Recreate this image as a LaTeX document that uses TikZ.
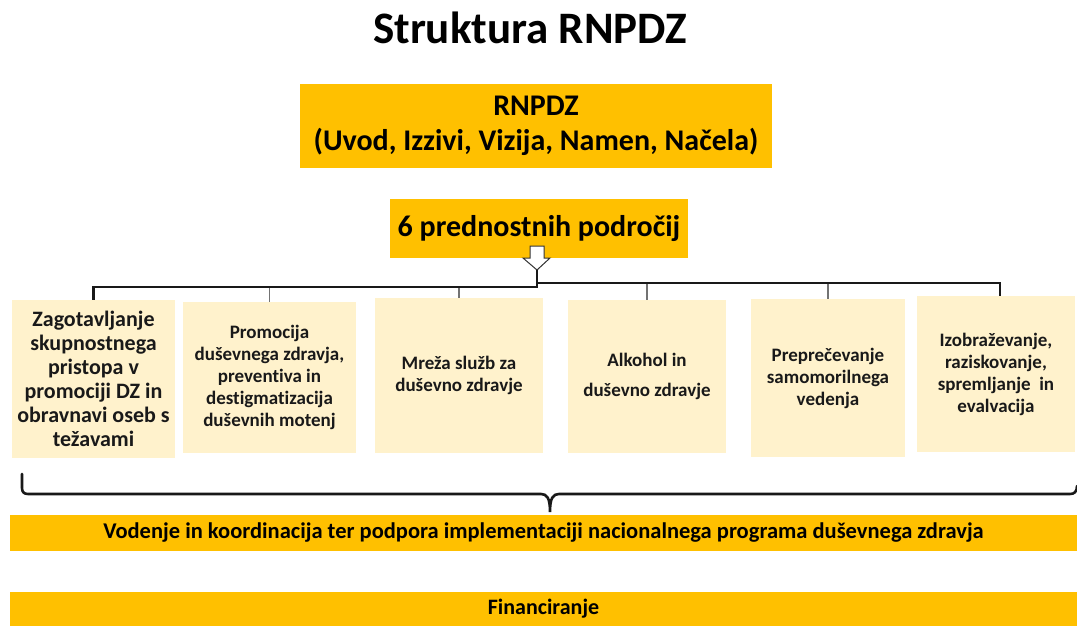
\documentclass[tikz,border=0pt]{standalone}
\usepackage{fontspec}
\setmainfont{Carlito}[Ligatures=NoCommon]
\usetikzlibrary{calc}
\definecolor{gold}{HTML}{FFC000}
\definecolor{pale}{HTML}{FFF2CC}
\begin{document}
\begin{tikzpicture}[x=1pt,y=-1pt,
  gbox/.style={fill=gold, draw=none, inner sep=0pt, align=center, font=\bfseries},
  pbox/.style={fill=pale, draw=none, inner sep=0pt, align=center, text=black!90, font=\bfseries\fontsize{19}{22}\selectfont},
  trunk/.style={line width=2.6pt, black!90},
  twig/.style={line width=1.2pt, black!55},
  bracepath/.style={line width=2.6pt, black!90, line cap=round}]
\useasboundingbox (0,0) rectangle (1077,626);
\fill[white] (0,0) rectangle (1077,626);

\node (title) at (530,28) {\bfseries\fontsize{45}{50}\selectfont Struktura RNPDZ};

\node[gbox, minimum width=472pt, minimum height=83pt, font=\bfseries\fontsize{30}{35}\selectfont] (top) at (536,126) {RNPDZ\\(Uvod, Izzivi, Vizija, Namen, Načela)};

\node[gbox, minimum width=298pt, minimum height=59pt, font=\bfseries\fontsize{30}{35}\selectfont] (six) at (539,228.5) {6 prednostnih področij};

\draw[fill=white, draw=black!80, line width=1pt, line join=miter] (530,246) -- (544,246) -- (544,258) -- (550,258) -- (537,270) -- (523,258) -- (530,258) -- cycle;
\coordinate (tip) at (537,270);
\coordinate (jl) at (537,287);
\coordinate (jr) at (537,283);

\node[pbox, minimum width=163pt, minimum height=158pt, font=\bfseries\fontsize{22}{24}\selectfont] (b1) at (93.5,379) {Zagotavljanje\\skupnostnega\\pristopa v\\promociji DZ in\\obravnavi oseb s\\težavami};
\node[pbox, minimum width=173pt, minimum height=151pt] (b2) at (269.5,377.5) {Promocija\\duševnega zdravja,\\preventiva in\\destigmatizacija\\duševnih\ motenj};
\node[pbox, minimum width=168pt, minimum height=155pt] (b3) at (459,375.5) {Mreža služb za\\duševno zdravje};
\node[pbox, minimum width=158pt, minimum height=153pt, font=\bfseries\fontsize{19}{30}\selectfont] (b4) at (647,376.5) {Alkohol\ in\\duševno\ zdravje};
\node[pbox, minimum width=154pt, minimum height=158pt] (b5) at (828,378) {Preprečevanje\\samomorilnega\\vedenja};
\node[pbox, minimum width=158pt, minimum height=156pt] (b6) at (996,374) {Izobraževanje,\\raziskovanje,\\spremljanje\ \ in\\evalvacija};

\draw[twig] (jl -| b2.north) -- (b2.north);
\draw[twig] (jl -| b3.north) -- (b3.north);
\draw[twig] (jr -| b4.north) -- (b4.north);
\draw[twig] (jr -| b5.north) -- (b5.north);
\coordinate (b6t) at ($(b6.north)+(4,0)$);
\draw[trunk] (tip) -- (jl) -- (jl -| b1.north) -- (b1.north);
\draw[trunk] (jr) -- (jr -| b6t) -- (b6t);

\node[gbox, minimum width=1067pt, minimum height=36pt, font=\bfseries\fontsize{22.5}{26}\selectfont] (vod) at (543.5,533) {Vodenje in koordinacija ter podpora implementaciji nacionalnega programa duševnega zdravja};
\node[gbox, minimum width=1067pt, minimum height=34pt, font=\bfseries\fontsize{22}{26}\selectfont] (fin) at (543.5,609) {Financiranje};

\coordinate (bl) at (22,474);
\coordinate (bm) at (550,512);
\coordinate (br) at (1077,486);
\draw[bracepath] (bl) -- (22,488) .. controls (22,492) and (24,494) .. (28,494) -- (541,494) .. controls (547,494) and (550,498) .. (bm) .. controls (550,498) and (553,494) .. (559,494) -- (1070,494) .. controls (1074,494) and (1077,492) .. (br);
\end{tikzpicture}
\end{document}
